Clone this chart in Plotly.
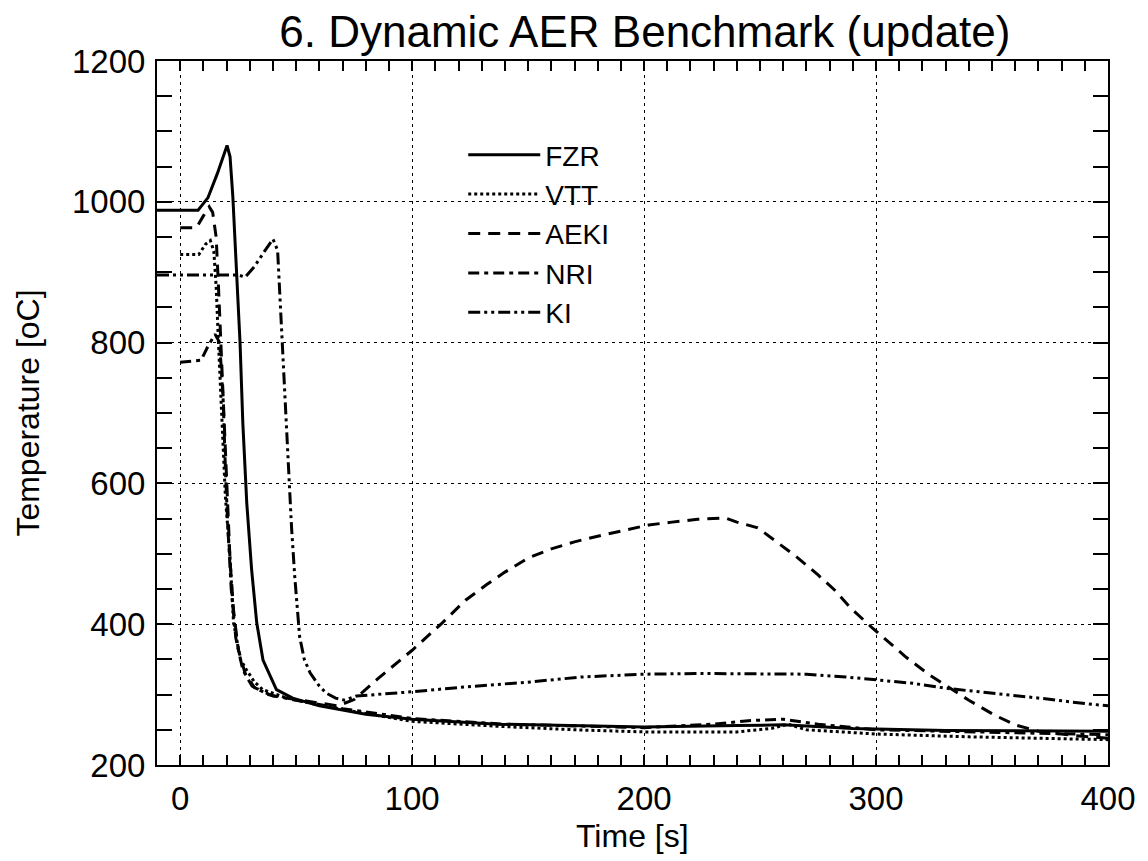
import plotly.graph_objects as go

# ---------------- data ----------------
fzr_t = [-10, 0, 7.7, 12, 16, 20.2, 21.5, 22.7, 24.4, 25.8, 27, 28.7, 30.8, 33, 35.7,
         41.5, 48.5, 60, 80, 100, 137, 200, 240, 260, 290, 330, 400]
fzr_T = [988, 988, 988, 1006, 1040, 1080, 1064, 1007, 893, 800, 686, 572, 477, 402, 349,
         307, 295, 284, 272, 265, 258, 254, 256, 257, 252, 249, 248]

vtt_t = [0, 8, 11, 13, 14.5, 15.5, 16.5, 17.5, 18.5, 19.5, 21.5, 23, 26, 28.6, 32, 35.6,
         45, 60, 75, 100, 137, 170, 200, 240, 255, 262, 270, 300, 340, 400]
vtt_T = [925, 925, 940, 945, 930, 880, 800, 720, 650, 580, 495, 402, 350, 335, 318, 307,
         296, 285, 276, 262, 255, 250, 247, 247, 252, 258, 250, 244, 240, 236]

aeki_t = [0, 7, 10, 12.5, 14, 15.5, 16.5, 17.5, 18.5, 19.5, 20.5, 21.5, 23, 25, 28, 32,
          40, 55, 68, 75, 85, 100, 113, 123, 132, 140, 150, 160, 170, 180, 191, 202,
          212, 223, 235, 240, 249, 258, 266, 275, 282, 289, 298, 313, 323, 340, 351,
          360, 370, 385, 400]
aeki_T = [963, 963, 980, 993, 985, 950, 880, 800, 720, 640, 560, 490, 420, 365, 330, 310,
          298, 290, 284, 293, 322, 363, 402, 434, 456, 474, 494, 507, 517, 525, 533, 541,
          545, 549, 551, 545, 537, 515, 495, 470, 449, 423, 396, 353, 328, 292, 271,
          257, 248, 242, 238]

nri_t = [0, 9, 12, 15, 17, 18.5, 19.5, 20.5, 22, 24, 27, 31, 38, 50, 70, 100, 140, 200,
         230, 245, 260, 275, 300, 350, 400]
nri_T = [772, 775, 795, 812, 800, 720, 620, 540, 450, 380, 335, 312, 300, 292, 280, 266,
         258, 253, 258, 263, 265, 258, 250, 246, 243]

ki_t = [-10, 25, 28, 32, 36, 40, 42, 43.7, 45.9, 46.5, 48, 49.4, 51.5, 53.5, 56, 60, 63,
        67, 71, 76, 100, 123, 151, 173, 200, 223, 251, 270, 287, 300, 316, 330, 345,
        359, 373, 388, 400]
ki_T = [896, 896, 893, 908, 928, 947, 931, 818, 686, 633, 538, 467, 382, 350, 331, 312, 302,
        295, 292, 298, 304, 311, 318, 325, 329, 330, 329, 329, 325, 321, 316, 309, 304,
        299, 294, 288, 284]

series = [
    ("FZR", fzr_t, fzr_T, "solid"),
    ("VTT", vtt_t, vtt_T, "3px,3px"),
    ("AEKI", aeki_t, aeki_T, "12px,8px"),
    ("NRI", nri_t, nri_T, "11px,5px,4px,5px"),
    ("KI", ki_t, ki_T, "12px,4px,3px,4px,3px,4px"),
]

x_ticks = [0, 100, 200, 300, 400]
y_ticks = [200, 400, 600, 800, 1000, 1200]

FONT = "Liberation Sans, Arial, Helvetica, sans-serif"

fig = go.Figure()
for name, t, T, dash in series:
    fig.add_trace(go.Scatter(x=t, y=T, mode="lines", name=name,
                             line=dict(color="black", width=3, dash=dash)))

axis_common = dict(
    showline=True, linecolor="black", linewidth=2, mirror="allticks",
    ticks="inside", tickcolor="black", tickwidth=1.5,
    showgrid=True, gridcolor="black", gridwidth=1, griddash="3px,4px",
    zeroline=False, tickfont=dict(family=FONT, size=33, color="black"),
)

fig.update_xaxes(
    range=[-10, 400], tickvals=x_ticks, ticklen=10,
    minor=dict(dtick=10, ticks="inside", ticklen=10, tickcolor="black", tickwidth=1.5,
               showgrid=False),
    ticklabelstandoff=3,
    **axis_common,
)
fig.update_yaxes(
    range=[200, 1200], tickvals=y_ticks, ticklen=15,
    minor=dict(dtick=50, ticks="inside", ticklen=15, tickcolor="black", tickwidth=1.5,
               showgrid=False),
    title=dict(text="Temperature [oC]", font=dict(family=FONT, size=32, color="black"),
               standoff=23),
    ticklabelstandoff=3,
    **axis_common,
)

# x-axis title as a paper-anchored text so it can sit as close as in the reference
fig.add_annotation(text="Time [s]", xref="paper", yref="paper", x=0.5, y=-0.101,
                   xanchor="center", yanchor="middle", showarrow=False,
                   font=dict(family=FONT, size=32, color="black"))

fig.update_layout(
    width=1140, height=853,
    margin=dict(l=149, r=36, t=53, b=96),
    paper_bgcolor="white", plot_bgcolor="white",
    title=dict(text="6. Dynamic AER Benchmark (update)",
               font=dict(family=FONT, size=44, color="black"),
               x=0.513, xref="paper", xanchor="center",
               y=1 - 8 / 853, yref="container", yanchor="top"),
    legend=dict(x=0.322, y=0.902, xanchor="left", yanchor="top",
                bgcolor="rgba(0,0,0,0)", borderwidth=0,
                font=dict(family=FONT, size=28, color="black"),
                itemwidth=72, tracegroupgap=0),
    showlegend=True,
)

fig.write_html("out.html")
